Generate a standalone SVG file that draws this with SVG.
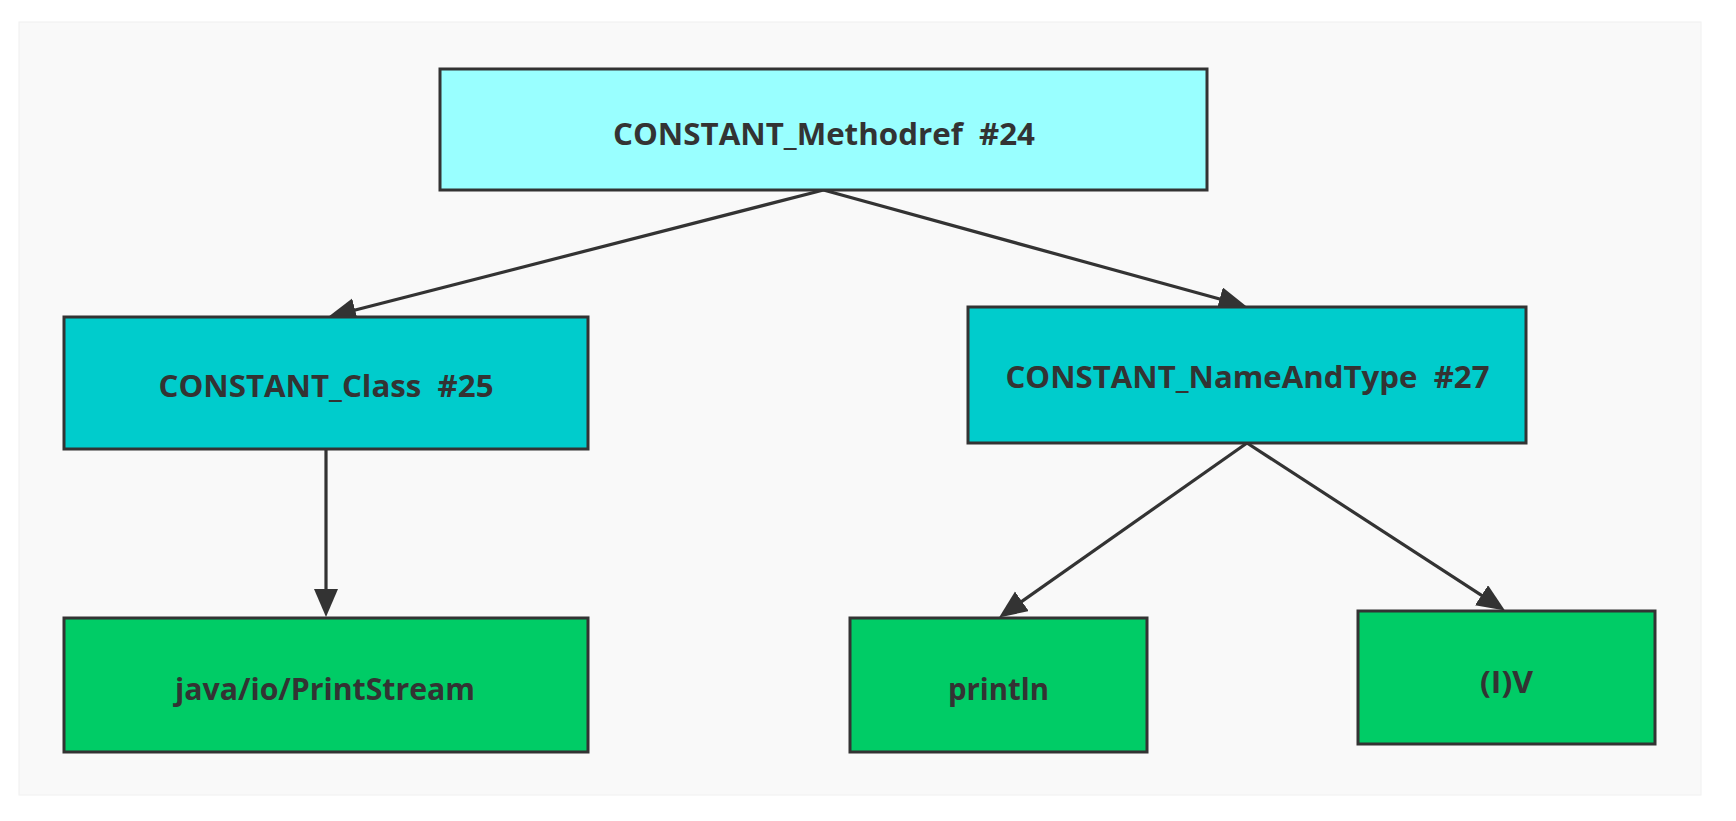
<svg xmlns="http://www.w3.org/2000/svg" width="1736" height="821" viewBox="0 0 1736 821">
<style>
.box{stroke:#333333;stroke-width:3}
.l1{fill:#99FFFF}
.l2{fill:#00CCCC}
.l3{fill:#00CC66}
.lbl{font-family:"Open Sans","Noto Sans","Liberation Sans",sans-serif;font-weight:bold;font-size:30px;fill:#333333;text-anchor:middle;white-space:pre}
.conn{stroke:#333333;stroke-width:3.2;fill:none;marker-end:url(#arr)}
</style>
<defs>
<marker id="arr" markerUnits="userSpaceOnUse" markerWidth="30" markerHeight="26" refX="18" refY="12" orient="auto" viewBox="0 0 30 26">
<path d="M0,0 L28,12 L0,24 Z" fill="#333333"/>
</marker>
</defs>
<rect x="0" y="0" width="1736" height="821" fill="#ffffff"/>
<rect x="19" y="22" width="1682" height="773" fill="#f9f9f9" stroke="#f0f0f0" stroke-width="1"/>
<g id="connectors">
<path class="conn" d="M823.5,190 L337.7,314.5"/>
<path class="conn" d="M823.5,190 L1237,303.8"/>
<path class="conn" d="M326,449 L326,607"/>
<path class="conn" d="M1247,443 L1007.2,611.7"/>
<path class="conn" d="M1247,443 L1496.6,605.1"/>
</g>
<g id="methodref">
<rect class="box l1" x="440" y="69" width="767" height="121"/>
<text class="lbl" x="824" y="145" textLength="422" lengthAdjust="spacingAndGlyphs" xml:space="preserve">CONSTANT_Methodref  #24</text>
</g>
<g id="class">
<rect class="box l2" x="64" y="317" width="524" height="132"/>
<text class="lbl" x="326" y="397" textLength="335" lengthAdjust="spacingAndGlyphs" xml:space="preserve">CONSTANT_Class  #25</text>
</g>
<g id="nameandtype">
<rect class="box l2" x="968" y="307" width="558" height="136"/>
<text class="lbl" x="1247.5" y="388" textLength="484" lengthAdjust="spacingAndGlyphs" xml:space="preserve">CONSTANT_NameAndType  #27</text>
</g>
<g id="printstream">
<rect class="box l3" x="64" y="618" width="524" height="134"/>
<text class="lbl" x="325" y="700" textLength="300" lengthAdjust="spacingAndGlyphs">java/io/PrintStream</text>
</g>
<g id="println">
<rect class="box l3" x="850" y="618" width="297" height="134"/>
<text class="lbl" x="998.5" y="700" textLength="101" lengthAdjust="spacingAndGlyphs">println</text>
</g>
<g id="iv">
<rect class="box l3" x="1358" y="611" width="297" height="133"/>
<text class="lbl" x="1506.5" y="693" textLength="53" lengthAdjust="spacingAndGlyphs">(I)V</text>
</g>
</svg>
